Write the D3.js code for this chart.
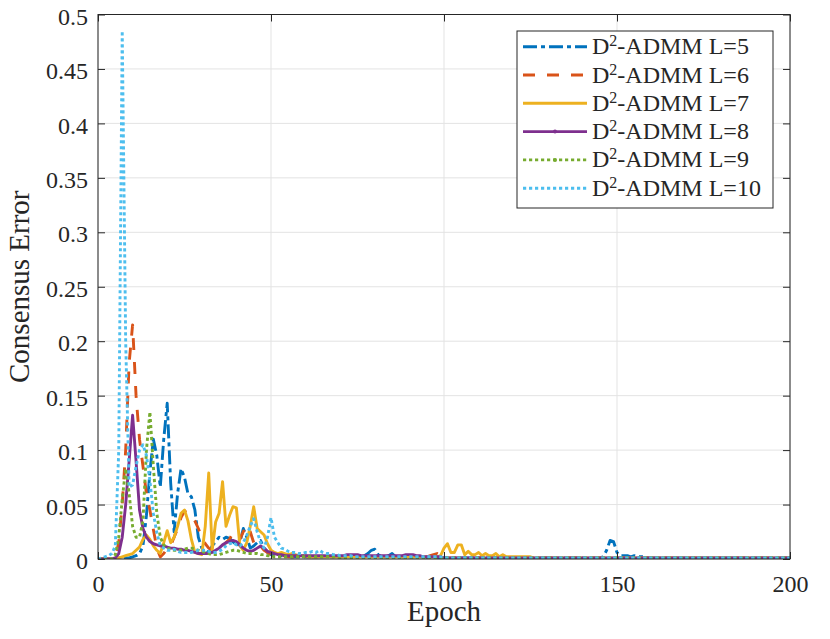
<!DOCTYPE html>
<html><head><meta charset="utf-8">
<script src="https://cdn.jsdelivr.net/npm/d3@7"></script>
<style>
body{margin:0;background:#fff}
svg{display:block}
text{font-family:"Liberation Serif","Times New Roman",serif;fill:#262626}
</style>
</head><body>
<svg id="c" width="830" height="639"></svg>
<script>
// ---------------- data ----------------
const xTicks = [0, 50, 100, 150, 200];
const yTicks = [0, 0.05, 0.1, 0.15, 0.2, 0.25, 0.3, 0.35, 0.4, 0.45, 0.5];
const yTickLabels = ["0","0.05","0.1","0.15","0.2","0.25","0.3","0.35","0.4","0.45","0.5"];
const seriesLabels = ["L=5","L=6","L=7","L=8","L=9","L=10"];

// consensus error per epoch, epoch 0..200
const errL5 = [
0,0,0,0,0,0,0.001,0.001,0.001,0.001,
0.002,0.003,0.005,0.012,0.04,0.08,0.11,0.095,0.066,0.11,
0.143,0.07,0.025,0.06,0.083,0.075,0.06,0.057,0.045,0.02,
0.01,0.008,0.006,0.012,0.016,0.02,0.018,0.02,0.019,0.016,
0.012,0.015,0.028,0.02,0.01,0.012,0.015,0.017,0.01,0.006,
0.004,0.003,0.003,0.003,0.002,0.003,0.002,0.002,0.002,0.002,
0.002,0.002,0.002,0.002,0.002,0.002,0.002,0.002,0.002,0.002,
0.002,0.002,0.002,0.002,0.002,0.002,0.002,0.003,0.005,0.008,
0.009,0.004,0.002,0.002,0.003,0.005,0.002,0.002,0.002,0.002,
0.002,0.002,0.002,0.002,0.002,0.001,0.001,0.001,0.001,0.001,
0.001,0.001,0.001,0.001,0.001,0.001,0.001,0.001,0.001,0.001,
0.001,0.001,0.001,0.001,0.001,0.001,0.001,0.001,0.001,0.001,
0.001,0.001,0.001,0.001,0.001,0.001,0.001,0.001,0.001,0.001,
0.001,0.001,0.001,0.001,0.001,0.001,0.001,0.001,0.001,0.001,
0.001,0.001,0.001,0.001,0.001,0.001,0.002,0.008,0.017,0.016,
0.006,0.003,0.003,0.003,0.002,0.003,0.002,0.002,0.002,0.001,
0.001,0.001,0.001,0.001,0.001,0.001,0.001,0.001,0.001,0.001,
0.001,0.001,0.001,0.001,0.001,0.001,0.001,0.001,0.001,0.001,
0.001,0.001,0.001,0.001,0.001,0.001,0.001,0.001,0.001,0.001,
0.001,0.001,0.001,0.001,0.001,0.001,0.001,0.001,0.001,0.001,
0.001];
const errL6 = [
0,0,0,0,0,0.002,0.015,0.05,0.1,0.18,
0.215,0.15,0.11,0.085,0.06,0.045,0.027,0.01,0.002,0.005,
0.01,0.012,0.02,0.028,0.038,0.044,0.042,0.04,0.035,0.028,
0.02,0.014,0.01,0.008,0.008,0.01,0.012,0.015,0.018,0.024,
0.02,0.018,0.025,0.031,0.025,0.015,0.01,0.012,0.008,0.006,
0.004,0.004,0.003,0.003,0.003,0.002,0.002,0.002,0.002,0.002,
0.002,0.002,0.002,0.002,0.002,0.002,0.002,0.002,0.002,0.002,
0.002,0.002,0.002,0.002,0.002,0.002,0.002,0.002,0.002,0.002,
0.002,0.002,0.002,0.002,0.002,0.002,0.002,0.002,0.002,0.002,
0.002,0.002,0.002,0.002,0.002,0.002,0.003,0.004,0.005,0.003,
0.001,0.001,0.001,0.001,0.001,0.001,0.001,0.001,0.001,0.001,
0.001,0.001,0.001,0.001,0.001,0.001,0.001,0.001,0.001,0.001,
0.001,0.001,0.001,0.001,0.001,0.001,0.001,0.001,0.001,0.001,
0.001,0.001,0.001,0.001,0.001,0.001,0.001,0.001,0.001,0.001,
0.001,0.001,0.001,0.001,0.001,0.001,0.001,0.001,0.001,0.001,
0.001,0.001,0.001,0.001,0.001,0.001,0.001,0.001,0.001,0.001,
0.001,0.001,0.001,0.001,0.001,0.001,0.001,0.001,0.001,0.001,
0.001,0.001,0.001,0.001,0.001,0.001,0.001,0.001,0.001,0.001,
0.001,0.001,0.001,0.001,0.001,0.001,0.001,0.001,0.001,0.001,
0.001,0.001,0.001,0.001,0.001,0.001,0.001,0.001,0.001,0.001,
0.001];
const errL7 = [
0,0,0,0,0,0,0.001,0.002,0.003,0.004,
0.005,0.008,0.011,0.018,0.022,0.018,0.012,0.008,0.005,0.015,
0.026,0.015,0.02,0.03,0.042,0.045,0.035,0.018,0.006,0.005,
0.004,0.03,0.079,0.008,0.034,0.042,0.071,0.03,0.04,0.048,
0.047,0.012,0.008,0.015,0.03,0.048,0.028,0.025,0.022,0.014,
0.008,0.006,0.005,0.006,0.005,0.004,0.005,0.004,0.003,0.003,
0.003,0.002,0.002,0.002,0.002,0.002,0.002,0.002,0.002,0.002,
0.002,0.002,0.002,0.002,0.002,0.002,0.002,0.002,0.002,0.002,
0.002,0.002,0.002,0.002,0.002,0.002,0.002,0.002,0.002,0.002,
0.002,0.002,0.002,0.002,0.002,0.002,0.002,0.002,0.002,0.003,
0.01,0.014,0.006,0.006,0.013,0.013,0.004,0.007,0.004,0.004,
0.006,0.003,0.005,0.003,0.003,0.005,0.002,0.004,0.002,0.002,
0.002,0.002,0.002,0.002,0.002,0.002,0.001,0.001,0.001,0.001,
0.001,0.001,0.001,0.001,0.001,0.001,0.001,0.001,0.001,0.001,
0.001,0.001,0.001,0.001,0.001,0.001,0.001,0.001,0.001,0.001,
0.001,0.001,0.001,0.001,0.001,0.001,0.001,0.001,0.001,0.001,
0.001,0.001,0.001,0.001,0.001,0.001,0.001,0.001,0.001,0.001,
0.001,0.001,0.001,0.001,0.001,0.001,0.001,0.001,0.001,0.001,
0.001,0.001,0.001,0.001,0.001,0.001,0.001,0.001,0.001,0.001,
0.001,0.001,0.001,0.001,0.001,0.001,0.001,0.001,0.001,0.001,
0.001];
const errL8 = [
0,0,0,0,0,0.001,0.005,0.02,0.05,0.09,
0.132,0.09,0.045,0.028,0.02,0.016,0.014,0.013,0.012,0.012,
0.011,0.01,0.01,0.009,0.009,0.008,0.008,0.007,0.006,0.005,
0.005,0.005,0.005,0.006,0.008,0.01,0.013,0.015,0.016,0.017,
0.016,0.013,0.01,0.008,0.007,0.008,0.01,0.012,0.01,0.007,
0.006,0.005,0.004,0.004,0.003,0.003,0.003,0.003,0.003,0.003,
0.003,0.003,0.003,0.003,0.003,0.003,0.003,0.003,0.003,0.003,
0.003,0.003,0.004,0.004,0.004,0.004,0.003,0.003,0.003,0.003,
0.003,0.003,0.003,0.003,0.003,0.003,0.003,0.003,0.003,0.004,
0.004,0.004,0.003,0.003,0.002,0.002,0.002,0.002,0.002,0.002,
0.001,0.001,0.001,0.001,0.001,0.001,0.001,0.001,0.001,0.001,
0.001,0.001,0.001,0.001,0.001,0.001,0.001,0.001,0.001,0.001,
0.001,0.001,0.001,0.001,0.001,0.001,0.001,0.001,0.001,0.001,
0.001,0.001,0.001,0.001,0.001,0.001,0.001,0.001,0.001,0.001,
0.001,0.001,0.001,0.001,0.001,0.001,0.001,0.001,0.001,0.001,
0.001,0.001,0.001,0.001,0.001,0.001,0.001,0.001,0.001,0.001,
0.001,0.001,0.001,0.001,0.001,0.001,0.001,0.001,0.001,0.001,
0.001,0.001,0.001,0.001,0.001,0.001,0.001,0.001,0.001,0.001,
0.001,0.001,0.001,0.001,0.001,0.001,0.001,0.001,0.001,0.001,
0.001,0.001,0.001,0.001,0.001,0.001,0.001,0.001,0.001,0.001,
0.001];
const errL9 = [
0,0,0,0,0,0.004,0.02,0.055,0.083,0.06,
0.03,0.02,0.02,0.035,0.1,0.135,0.085,0.042,0.02,0.013,
0.01,0.009,0.008,0.008,0.008,0.009,0.01,0.01,0.009,0.008,
0.007,0.006,0.005,0.004,0.004,0.004,0.005,0.006,0.007,0.008,
0.008,0.007,0.006,0.005,0.005,0.005,0.005,0.004,0.004,0.003,
0.003,0.002,0.002,0.002,0.002,0.002,0.002,0.002,0.002,0.002,
0.002,0.002,0.002,0.002,0.002,0.002,0.002,0.002,0.002,0.002,
0.001,0.001,0.001,0.001,0.001,0.001,0.001,0.001,0.001,0.001,
0.001,0.001,0.001,0.001,0.001,0.001,0.001,0.001,0.001,0.001,
0.001,0.001,0.001,0.001,0.001,0.001,0.001,0.001,0.001,0.001,
0.001,0.001,0.001,0.001,0.001,0.001,0.001,0.001,0.001,0.001,
0.001,0.001,0.001,0.001,0.001,0.001,0.001,0.001,0.001,0.001,
0.001,0.001,0.001,0.001,0.001,0.001,0.001,0.001,0.001,0.001,
0.001,0.001,0.001,0.001,0.001,0.001,0.001,0.001,0.001,0.001,
0.001,0.001,0.001,0.001,0.001,0.001,0.001,0.001,0.001,0.001,
0.001,0.001,0.001,0.001,0.001,0.001,0.001,0.001,0.001,0.001,
0.001,0.001,0.001,0.001,0.001,0.001,0.001,0.001,0.001,0.001,
0.001,0.001,0.001,0.001,0.001,0.001,0.001,0.001,0.001,0.001,
0.001,0.001,0.001,0.001,0.001,0.001,0.001,0.001,0.001,0.001,
0.001,0.001,0.001,0.001,0.001,0.001,0.001,0.001,0.001,0.001,
0.001];
const errL10 = [
0,0.001,0.002,0.003,0.005,0.012,0.1,0.485,0.2,0.066,
0.068,0.085,0.1,0.105,0.095,0.072,0.042,0.024,0.012,0.01,
0.008,0.008,0.009,0.007,0.006,0.006,0.006,0.006,0.007,0.008,
0.008,0.008,0.007,0.006,0.006,0.007,0.009,0.012,0.014,0.015,
0.013,0.012,0.015,0.022,0.03,0.037,0.025,0.015,0.01,0.02,
0.038,0.02,0.015,0.01,0.009,0.007,0.006,0.006,0.005,0.005,
0.006,0.006,0.007,0.006,0.008,0.006,0.005,0.005,0.004,0.004,
0.003,0.003,0.003,0.003,0.002,0.002,0.002,0.002,0.002,0.002,
0.002,0.002,0.002,0.002,0.002,0.002,0.002,0.002,0.002,0.002,
0.002,0.002,0.002,0.002,0.002,0.002,0.002,0.002,0.002,0.002,
0.001,0.001,0.001,0.001,0.001,0.001,0.001,0.001,0.001,0.001,
0.001,0.001,0.001,0.001,0.001,0.001,0.001,0.001,0.001,0.001,
0.001,0.001,0.001,0.001,0.001,0.001,0.001,0.001,0.001,0.001,
0.001,0.001,0.001,0.001,0.001,0.001,0.001,0.001,0.001,0.001,
0.001,0.001,0.001,0.001,0.001,0.001,0.001,0.001,0.001,0.001,
0.001,0.001,0.001,0.001,0.001,0.001,0.001,0.001,0.001,0.001,
0.001,0.001,0.001,0.001,0.001,0.001,0.001,0.001,0.001,0.001,
0.001,0.001,0.001,0.001,0.001,0.001,0.001,0.001,0.001,0.001,
0.001,0.001,0.001,0.001,0.001,0.001,0.001,0.001,0.001,0.001,
0.001,0.001,0.001,0.001,0.001,0.001,0.001,0.001,0.001,0.001,
0.001];

const seriesValues = [errL5, errL6, errL7, errL8, errL9, errL10];

// ---------------- styles ----------------
const colors = ["#0072BD","#D95319","#EDB120","#7E2F8E","#77AC30","#4DBEEE"];
const dashes = ["14,4,4,4","12,12","none","none","3.2,2.8","3.2,2.8"];
const legendMarker = [false,false,false,true,true,false];

// ---------------- layout ----------------
const L = 98, R = 790, T = 14.5, B = 559;
const axisColor = "#262626";

const svg = d3.select("#c");
const x = d3.scaleLinear().domain([0, 200]).range([L, R]);
const y = d3.scaleLinear().domain([0, 0.5]).range([B, T]);

// grid
const grid = svg.append("g").attr("stroke", "#e3e3e3").attr("stroke-width", 1);
grid.selectAll(".gx").data(xTicks).join("line")
  .attr("x1", d => x(d)).attr("x2", d => x(d)).attr("y1", T).attr("y2", B);
grid.selectAll(".gy").data(yTicks).join("line")
  .attr("y1", d => y(d)).attr("y2", d => y(d)).attr("x1", L).attr("x2", R);

// clip
svg.append("clipPath").attr("id", "clip").append("rect")
  .attr("x", L).attr("y", T - 2).attr("width", R - L).attr("height", B - T + 2);

const line = d3.line().x((d, i) => x(i)).y(d => y(d));
const plot = svg.append("g").attr("clip-path", "url(#clip)");
seriesValues.forEach((vals, k) => {
  plot.append("path")
    .datum(vals)
    .attr("d", line)
    .attr("fill", "none")
    .attr("stroke", colors[k])
    .attr("stroke-width", 2.9)
    .attr("stroke-linejoin", "round")
    .attr("stroke-dasharray", dashes[k]);
});

// axes (ticks inside, box)
const fmtY = (d, i) => yTickLabels[i];
const gxB = svg.append("g").attr("transform", `translate(0,${B})`)
  .call(d3.axisBottom(x).tickValues(xTicks).tickSize(-7).tickPadding(16).tickFormat(d3.format("d")));
const gxT = svg.append("g").attr("transform", `translate(0,${T})`)
  .call(d3.axisTop(x).tickValues(xTicks).tickSize(-7).tickFormat(""));
const gyL = svg.append("g").attr("transform", `translate(${L},0)`)
  .call(d3.axisLeft(y).tickValues(yTicks).tickSize(-7).tickPadding(10).tickFormat(fmtY));
const gyR = svg.append("g").attr("transform", `translate(${R},0)`)
  .call(d3.axisRight(y).tickValues(yTicks).tickSize(-7).tickFormat(""));

[gxB, gxT, gyL, gyR].forEach(g => {
  g.select(".domain").remove();
  g.selectAll("line").attr("stroke", axisColor).attr("stroke-width", 1);
  g.selectAll("text").attr("font-size", 24).attr("fill", axisColor)
    .attr("font-family", '"Liberation Serif","Times New Roman",serif');
});
gyL.selectAll("text").attr("dy", "0.4em");

svg.append("rect").attr("x", L).attr("y", T).attr("width", R - L).attr("height", B - T)
  .attr("fill", "none").attr("stroke", axisColor).attr("stroke-width", 1);

// labels
svg.append("text").attr("x", (L + R) / 2).attr("y", 621).attr("text-anchor", "middle")
  .attr("font-size", 29).text("Epoch");
svg.append("text").attr("transform", `translate(29,${(T + B) / 2}) rotate(-90)`)
  .attr("text-anchor", "middle").attr("font-size", 29).text("Consensus Error");

// legend
const lg = svg.append("g");
lg.append("rect").attr("x", 517).attr("y", 31).attr("width", 256).attr("height", 177)
  .attr("fill", "#fff").attr("stroke", axisColor).attr("stroke-width", 1);
seriesLabels.forEach((lab, k) => {
  const ry = 46.7 + k * 28.3;
  lg.append("line").attr("x1", 523).attr("x2", 587).attr("y1", ry).attr("y2", ry)
    .attr("stroke", colors[k]).attr("stroke-width", 2.9).attr("stroke-dasharray", dashes[k]);
  if (legendMarker[k]) {
    lg.append("circle").attr("cx", 555).attr("cy", ry).attr("r", 2).attr("fill", colors[k]);
  }
  const t = lg.append("text").attr("x", 592).attr("y", ry + 7.5).attr("font-size", 24);
  t.append("tspan").text("D");
  t.append("tspan").attr("font-size", 16).attr("dy", -8).text("2");
  t.append("tspan").attr("dy", 8).text("-ADMM " + lab);
});
</script>
</body></html>
